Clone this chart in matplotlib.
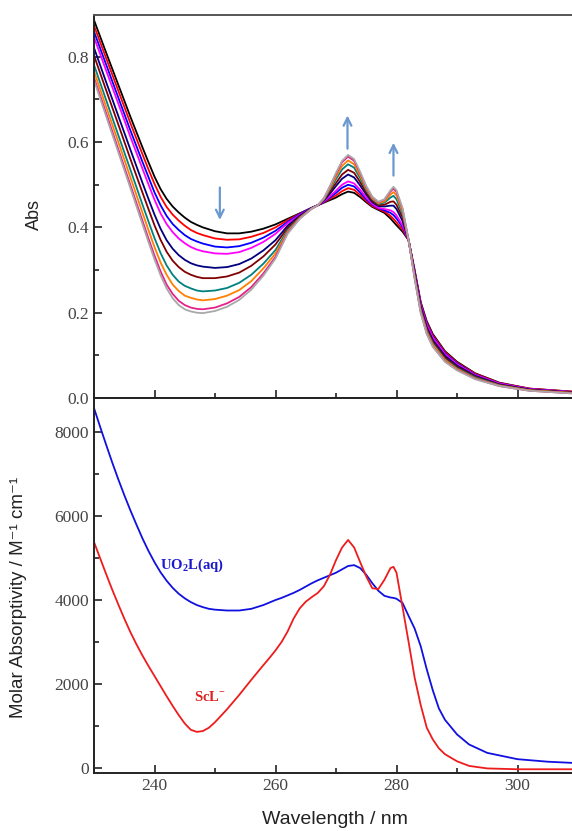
import matplotlib.pyplot as plt
from matplotlib.ticker import MultipleLocator

plt.rcParams['mathtext.fontset'] = 'custom'
plt.rcParams['mathtext.rm'] = 'Liberation Serif'
plt.rcParams['mathtext.bf'] = 'Liberation Serif:bold'

# ---- top panel: titration spectra (Abs vs wavelength) ----
wl_top = [230, 232, 234, 236, 238, 239, 240, 241, 242, 243, 244, 245, 246, 247, 248,
          250, 252, 254, 256, 258, 260, 262, 264, 266, 267, 268, 269, 270, 271, 272, 273,
          274, 275, 276, 277, 278, 279, 279.5, 280, 281, 282, 283, 284, 285, 286, 288,
          290, 293, 297, 302, 310]

abs_black = [.886, .810, .735, .660, .588, .553, .519, .490, .467, .449, .435, .423, .413, .406, .400,
             .391, .386, .386, .390, .397, .407, .420, .433, .446, .452, .458, .464, .470, .478, .484, .481,
             .471, .459, .448, .441, .434, .421, .413, .405, .390, .370, .300, .225, .180, .150, .110,
             .085, .058, .036, .022, .014]
abs_red = [.873, .797, .721, .645, .572, .536, .502, .472, .448, .430, .416, .404, .394, .387, .382,
           .374, .371, .372, .378, .387, .400, .417, .432, .446, .452, .459, .467, .475, .485, .492, .488,
           .476, .462, .450, .443, .437, .427, .420, .412, .395, .370, .298, .223, .177, .147, .108,
           .083, .057, .035, .022, .014]
abs_blue = [.859, .782, .705, .628, .554, .518, .482, .452, .427, .408, .394, .382, .373, .367, .362,
            .355, .353, .356, .364, .376, .392, .413, .431, .446, .452, .460, .470, .481, .493, .500, .496,
            .482, .466, .453, .445, .440, .434, .429, .421, .401, .370, .296, .220, .174, .144, .105,
            .081, .055, .034, .021, .013]
abs_magenta = [.846, .768, .691, .613, .538, .501, .465, .433, .408, .389, .374, .363, .354, .348, .344,
               .339, .338, .342, .352, .366, .385, .410, .429, .445, .452, .461, .473, .486, .500, .508, .503,
               .488, .470, .455, .446, .443, .440, .436, .428, .405, .370, .294, .218, .172, .142, .103,
               .079, .054, .034, .021, .013]
abs_navy = [.821, .741, .662, .583, .505, .467, .430, .397, .370, .350, .335, .324, .316, .311, .308,
            .305, .307, .314, .327, .346, .370, .404, .427, .445, .452, .463, .479, .497, .514, .524, .517,
            .498, .477, .459, .450, .449, .451, .451, .443, .415, .370, .291, .214, .166, .136, .099,
            .076, .052, .032, .020, .012]
abs_wine = [.803, .722, .642, .561, .482, .443, .405, .371, .343, .322, .307, .296, .289, .284, .281,
            .281, .285, .294, .310, .332, .360, .399, .425, .445, .452, .464, .484, .504, .524, .535, .528,
            .506, .481, .462, .452, .453, .460, .461, .453, .423, .370, .288, .210, .162, .132, .095,
            .073, .050, .031, .019, .012]
abs_cyan = [.781, .699, .617, .536, .454, .414, .375, .340, .311, .289, .273, .263, .257, .252, .250,
            .252, .258, .270, .289, .315, .347, .394, .423, .445, .452, .465, .489, .513, .536, .548, .540,
            .515, .487, .466, .455, .458, .470, .474, .466, .431, .370, .285, .206, .158, .128, .091,
            .070, .048, .030, .018, .011]
abs_orange = [.766, .683, .601, .518, .435, .394, .354, .318, .289, .266, .251, .240, .235, .231, .229,
              .232, .240, .253, .274, .304, .339, .390, .422, .444, .452, .467, .492, .519, .544, .557, .548,
              .521, .491, .468, .457, .461, .477, .483, .475, .437, .370, .283, .204, .155, .125, .089,
              .068, .046, .029, .018, .011]
abs_pink = [.751, .668, .584, .500, .416, .374, .334, .297, .266, .244, .228, .218, .212, .209, .208,
            .212, .222, .237, .260, .292, .331, .387, .421, .444, .452, .468, .496, .525, .553, .566, .556,
            .527, .495, .471, .459, .465, .484, .491, .483, .443, .370, .281, .201, .151, .121, .086,
            .066, .045, .028, .017, .010]
abs_gray = [.745, .661, .577, .493, .408, .366, .325, .288, .257, .234, .218, .208, .203, .200, .199,
            .204, .214, .230, .254, .287, .327, .385, .420, .444, .452, .468, .497, .528, .556, .570, .560,
            .530, .497, .472, .460, .466, .487, .495, .487, .445, .370, .280, .200, .150, .120, .085,
            .065, .044, .028, .017, .010]

titration = [abs_black, abs_red, abs_blue, abs_magenta, abs_navy,
             abs_wine, abs_cyan, abs_orange, abs_pink, abs_gray]
titration_colors = ['#000000', '#ff0000', '#0000ff', '#ff00ff', '#000080',
                    '#800000', '#008080', '#ff8000', '#e6208a', '#a8a8a8']

# ---- bottom panel: molar absorptivity ----
wl_bot = [230, 231, 232, 233, 234, 235, 236, 237, 238, 239, 240, 241, 242, 243, 244, 245, 246,
          247, 248, 249, 250, 252, 254, 256, 258, 259, 260, 261, 262, 263, 264, 265, 266, 267,
          268, 269, 270, 271, 272, 273, 274, 275, 276, 277, 278, 279, 279.5, 280, 281, 282, 283,
          284, 285, 286, 287, 288, 290, 292, 295, 300, 305, 310]
eps_uo2l = [8570, 8130, 7700, 7280, 6880, 6500, 6140, 5800, 5470, 5170, 4900, 4660, 4460, 4290, 4150,
            4040, 3950, 3880, 3830, 3790, 3770, 3750, 3750, 3790, 3880, 3940, 4000, 4050, 4110, 4170,
            4240, 4320, 4400, 4470, 4530, 4590, 4650, 4730, 4810, 4830, 4760, 4600, 4400, 4220, 4100,
            4060, 4050, 4030, 3930, 3620, 3320, 2900, 2350, 1850, 1420, 1150, 800, 560, 360, 210, 150, 115]
eps_scl = [5380, 5000, 4620, 4250, 3900, 3560, 3240, 2950, 2680, 2430, 2190, 1950, 1710, 1480, 1260,
           1060, 910, 860, 880, 960, 1090, 1400, 1740, 2100, 2450, 2620, 2800, 3000, 3250, 3560,
           3800, 3960, 4070, 4170, 4330, 4600, 4950, 5250, 5430, 5250, 4900, 4560, 4280, 4260, 4480,
           4760, 4790, 4650, 3830, 3000, 2150, 1500, 960, 680, 470, 330, 160, 50, -10, -30, -30, -30]

W, H = 572, 831
fig = plt.figure(figsize=(W / 100, H / 100), dpi=100)
left = 94 / W
width = 484 / W
ax1 = fig.add_axes([left, 1 - 398 / H, width, (398 - 15) / H])
ax2 = fig.add_axes([left, 1 - 773 / H, width, (773 - 398) / H])

for y, c in zip(titration, titration_colors):
    ax1.plot(wl_top, y, color=c, lw=1.3)

ax2.plot(wl_bot, eps_uo2l, color='#1010e0', lw=1.3)
ax2.plot(wl_bot, eps_scl, color='#ee1c1c', lw=1.3)

arrow_c = '#6a98cf'
arr = dict(arrowstyle='->', color=arrow_c, lw=1.6, mutation_scale=14)
ax1.annotate('', xy=(250.8, 0.411), xytext=(250.8, 0.50), arrowprops=arr)
ax1.annotate('', xy=(271.9, 0.669), xytext=(271.9, 0.578), arrowprops=arr)
ax1.annotate('', xy=(279.5, 0.605), xytext=(279.5, 0.515), arrowprops=arr)

ax2.text(240.9, 4830, r'UO$_\mathbf{2}$L(aq)', color='#1a1acc', fontsize=10.5,
         fontweight='bold', family='Liberation Serif', va='center', ha='left')
ax2.text(246.6, 1670, r'ScL$^\mathbf{-}$', color='#dd2222', fontsize=10.5,
         fontweight='bold', family='Liberation Serif', va='center', ha='left')

for ax in (ax1, ax2):
    ax.set_xlim(230, 310)
    ax.xaxis.set_major_locator(MultipleLocator(20))
    ax.xaxis.set_minor_locator(MultipleLocator(10))
    ax.tick_params(which='both', direction='in', colors='#222222', labelcolor='#444444',
                   labelsize=12.5, width=1.2)
    ax.tick_params(which='major', length=6)
    ax.tick_params(which='minor', length=3.5)
    for s in ax.spines.values():
        s.set_linewidth(1.4)
        s.set_color('#222222')
ax1.spines['top'].set_color('#555555')

ax1.set_ylim(0, 0.898)
ax1.yaxis.set_major_locator(MultipleLocator(0.2))
ax1.yaxis.set_minor_locator(MultipleLocator(0.1))
ax1.tick_params(labelbottom=False)
for lab in ax1.get_yticklabels():
    lab.set_family('Liberation Serif')

ax2.set_ylim(-119, 8810)
ax2.yaxis.set_major_locator(MultipleLocator(2000))
ax2.yaxis.set_minor_locator(MultipleLocator(1000))
for lab in ax2.get_xticklabels() + ax2.get_yticklabels():
    lab.set_family('Liberation Serif')

ax1.set_ylabel('Abs', fontsize=13, family='Liberation Sans', color='#222222')
ax1.yaxis.set_label_coords(-0.105, 0.478)
ax2.set_ylabel('Molar Absorptivity / M\u207b\u00b9 cm\u207b\u00b9', fontsize=13.5,
               family=['Liberation Sans', 'DejaVu Sans'], color='#222222')
ax2.yaxis.set_label_coords(-0.138, 0.467)
ax2.set_xlabel('Wavelength / nm', fontsize=14, family='Liberation Sans', color='#222222')
ax2.xaxis.set_label_coords(0.498, -0.10)

fig.savefig('out.png', dpi=100)
